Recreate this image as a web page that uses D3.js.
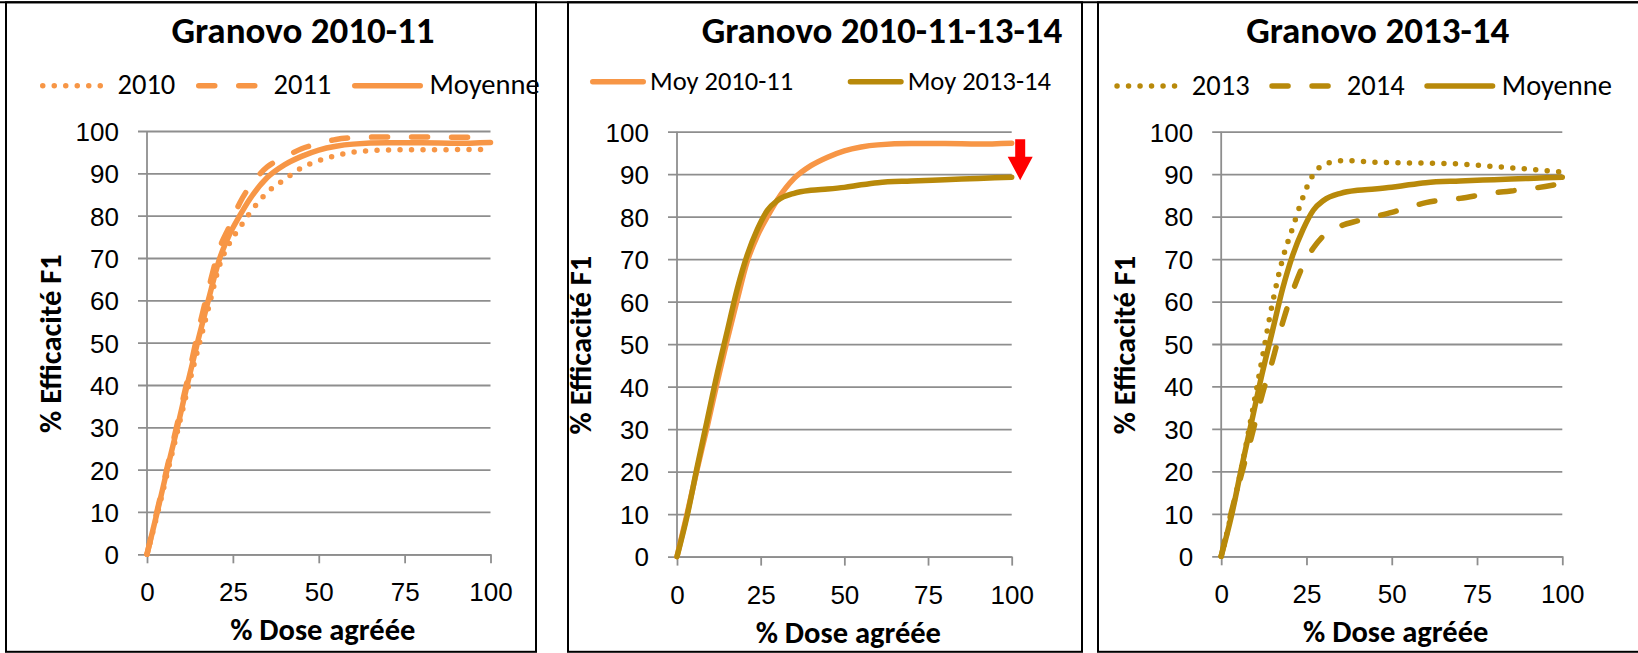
<!DOCTYPE html>
<html>
<head>
<meta charset="utf-8">
<script src="https://cdn.jsdelivr.net/npm/d3@7"></script>
<style>
body { margin: 0; background: #fff; }
svg { display: block; font-family: Carlito, Calibri, Lato, sans-serif; }
</style>
</head>
<body>
<svg id="chart" width="1638" height="653"></svg>
<script>
// % dose agréée (x) and % efficacité F1 (y)
var dose = [0, 3, 6, 9, 12, 15, 18, 21, 24, 27, 30, 35, 40, 45, 50, 55, 60, 70, 80, 90, 100];
var eff2010 = [0, 9.5, 19.5, 29.5, 39.5, 49, 58.5, 68, 73.5, 77.2, 80.7, 85.5, 88.5, 91.3, 93, 94.2, 95, 95.5, 95.6, 95.6, 95.7];
var eff2011 = [0, 10.5, 21, 31.5, 42, 53, 63, 72, 77.5, 83, 87, 91.5, 93.8, 95.8, 97, 98, 98.4, 98.6, 98.6, 98.5, 98.6];
var effMoy1011 = [0, 10, 20.5, 30.5, 41, 51, 60.5, 69.5, 75.5, 80, 84, 89, 92, 94, 95.5, 96.4, 96.9, 97.2, 97.2, 97.1, 97.3];
var dose2013 = [0, 3, 6, 9, 12, 15, 18, 21, 24, 26, 28, 30, 33, 36, 40, 45, 50, 60, 70, 80, 90, 100];
var eff2013 = [0, 10, 21, 33.5, 46.5, 59.5, 70, 77.5, 84.6, 88.5, 91, 92.2, 92.9, 93.2, 93.1, 92.8, 92.7, 92.6, 92.4, 91.8, 91.2, 90.5];
var eff2014 = [0, 10.5, 19.5, 28.5, 38, 46, 55, 62.5, 68.5, 72.6, 75.5, 77.8, 79, 80, 81, 82.2, 83.3, 84.3, 85.6, 86.5, 87.8];
var effMoy1314 = [0, 9.5, 21, 32, 43, 53, 63, 71, 77, 81.5, 83.8, 85.5, 86.2, 86.5, 86.9, 87.5, 88, 88.4, 88.7, 89, 89.3];

var yTicks = [0, 10, 20, 30, 40, 50, 60, 70, 80, 90, 100];
var xTicks = [0, 25, 50, 75, 100];
var titles = ["Granovo 2010-11", "Granovo 2010-11-13-14", "Granovo 2013-14"];
var legend1 = ["2010", "2011", "Moyenne"];
var legend2 = ["Moy 2010-11", "Moy 2013-14"];
var legend3 = ["2013", "2014", "Moyenne"];

var orange = "#f79646", olive = "#b8890a", gridColor = "#8e8e8e";

var svg = d3.select("#chart");

// frames round the three pasted charts
svg.append("line").attr("x1", 0).attr("x2", 1638).attr("y1", 2.3).attr("y2", 2.3)
  .attr("stroke", "#000").attr("stroke-width", 2);
[[6, 536], [568, 1082], [1098, 1645]].forEach(function(f) {
  svg.append("rect").attr("x", f[0]).attr("y", 2.3).attr("width", f[1] - f[0]).attr("height", 649.5)
    .attr("fill", "none").attr("stroke", "#000").attr("stroke-width", 2);
});

var panels = [
  { x0: 147, x1: 490.5, yTop: 131, yBot: 554.3, title: titles[0], titleX: 303,
    legX: 40, legStep: 156, keyLen: 71, textOff: 77.5, legY: 85.7, legFont: 28.5,
    series: [
      { name: legend1[0], x: dose, y: eff2010, color: orange, style: "dot" },
      { name: legend1[1], x: dose, y: eff2011, color: orange, style: "dash" },
      { name: legend1[2], x: dose, y: effMoy1011, color: orange, style: "solid" }
    ] },
  { x0: 677, x1: 1011.7, yTop: 131.7, yBot: 556.6, title: titles[1], titleX: 882,
    legX: 590, legStep: 257.7, keyLen: 56, textOff: 60, legY: 81.7, legFont: 26.5, arrow: true,
    series: [
      { name: legend2[0], x: dose, y: effMoy1011, color: orange, style: "solid" },
      { name: legend2[1], x: dose, y: effMoy1314, color: olive, style: "solid" }
    ] },
  { x0: 1221.2, x1: 1562.3, yTop: 131.7, yBot: 556.3, title: titles[2], titleX: 1377.7,
    legX: 1114.3, legStep: 155, keyLen: 71, textOff: 77.5, legY: 86, legFont: 28.5,
    series: [
      { name: legend3[0], x: dose2013, y: eff2013, color: olive, style: "dot" },
      { name: legend3[1], x: dose, y: eff2014, color: olive, style: "dash" },
      { name: legend3[2], x: dose, y: effMoy1314, color: olive, style: "solid" }
    ] }
];

function styleLine(sel, s) {
  sel.attr("fill", "none").attr("stroke", s.color).attr("stroke-width", 5.5)
    .attr("stroke-linecap", "round").attr("stroke-linejoin", "round");
  if (s.style == "dot") sel.attr("stroke-dasharray", "0 11.5");
  if (s.style == "dash") sel.attr("stroke-dasharray", "16 24");
}

panels.forEach(function(p) {
  var w = p.x1 - p.x0, h = p.yBot - p.yTop;
  var x = d3.scaleLinear().domain([0, 100]).range([0, w]);
  var y = d3.scaleLinear().domain([0, 100]).range([h, 0]);

  // title
  svg.append("text").attr("x", p.titleX).attr("y", 42.5).attr("text-anchor", "middle")
    .attr("font-size", 37).attr("font-weight", "bold").text(p.title);

  // legend
  p.series.forEach(function(s, i) {
    var lx = p.legX + i * p.legStep;
    var key = svg.append("line").attr("x1", lx + 2.75).attr("x2", lx + p.keyLen - 2.75)
      .attr("y1", p.legY).attr("y2", p.legY);
    styleLine(key, s);
    svg.append("text").attr("x", lx + p.textOff).attr("y", p.legY + 8.6)
      .attr("font-size", p.legFont).text(s.name);
  });

  var g = svg.append("g").attr("transform", "translate(" + p.x0 + "," + p.yTop + ")");

  // y axis with gridlines
  g.append("g").call(d3.axisLeft(y).tickValues(yTicks).tickSize(0).tickPadding(28))
    .call(function(a) {
      a.select(".domain").remove();
      a.selectAll(".tick line").attr("x1", -9).attr("x2", w)
        .attr("stroke", gridColor).attr("stroke-width", 1.8);
      a.selectAll(".tick text").attr("font-size", 26).attr("fill", "#000").attr("dy", "0.36em")
        .attr("font-family", null);
    });
  g.append("line").attr("x1", 0).attr("x2", 0).attr("y1", 0).attr("y2", h)
    .attr("stroke", gridColor).attr("stroke-width", 1.8);

  // x axis
  g.append("g").attr("transform", "translate(0," + h + ")")
    .call(d3.axisBottom(x).tickValues(xTicks).tickSize(9).tickSizeOuter(0))
    .call(function(a) {
      a.select(".domain").attr("stroke", gridColor).attr("stroke-width", 1.8);
      a.selectAll(".tick line").attr("stroke", gridColor).attr("stroke-width", 1.8);
      a.selectAll(".tick text").attr("font-size", 26).attr("fill", "#000")
        .attr("y", 47).attr("dy", 0).attr("font-family", null);
    });

  // axis titles
  g.append("text").attr("x", w / 2 + 4).attr("y", h + 86).attr("text-anchor", "middle")
    .attr("font-size", 30.5).attr("font-weight", "bold").text("% Dose agréée");
  g.append("text").attr("transform", "translate(-86.5," + (h / 2 + 1) + ") rotate(-90)")
    .attr("text-anchor", "middle").attr("font-size", 30.5).attr("font-weight", "bold")
    .text("% Efficacité F1");

  // curves
  var line = d3.line().curve(d3.curveMonotoneX);
  p.series.forEach(function(s) {
    var pts = s.x.map(function(d, i) { return [x(d), y(s.y[i])]; });
    g.append("path").attr("d", line(pts)).call(styleLine, s);
  });

  // red arrow: drop between the two averages
  if (p.arrow) {
    var a = p.series[0].y, b = p.series[1].y;
    var ax = x(100) + 8.5;
    var top = y(a[a.length - 1] + 0.9), tip = y(b[b.length - 1] - 0.7);
    var headBase = tip - 23.5;
    g.append("path")
      .attr("d", "M" + (ax - 5) + "," + top + "H" + (ax + 5) + "V" + headBase + "H" + (ax + 12.5) +
        "L" + ax + "," + tip + "L" + (ax - 12.5) + "," + headBase + "H" + (ax - 5) + "Z")
      .attr("fill", "#ff0000");
  }
});
</script>
</body>
</html>
